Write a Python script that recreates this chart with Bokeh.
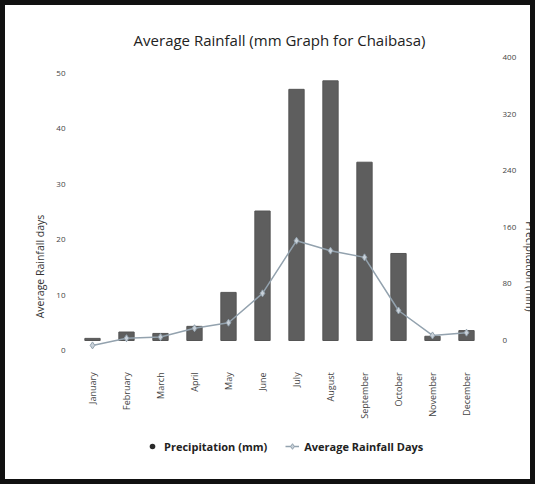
import math
from bokeh.plotting import figure
from bokeh.models import Range1d, LinearAxis, FixedTicker, Legend, LegendItem
from bokeh.core.properties import value
from bokeh.embed import file_html
from bokeh.resources import INLINE

months = ["January", "February", "March", "April", "May", "June", "July",
          "August", "September", "October", "November", "December"]
precip_mm = [3, 12, 10, 20, 68, 183, 355, 367, 252, 123, 6, 14]
rain_days = [0.9, 2.2, 2.4, 4.0, 5.0, 10.3, 19.8, 18.0, 16.8, 7.2, 2.7, 3.2]
left_ticks = [0, 10, 20, 30, 40, 50]
right_ticks = [0, 80, 160, 240, 320, 400]

FONT = "Open Sans"

# frame extends below the bars to hold the rotated month labels and the legend
p = figure(width=535, height=484, x_range=months,
           y_range=Range1d(-22.6, 52.9), output_backend="svg", toolbar_location=None,
           title="Average Rainfall (mm Graph for Chaibasa)",
           min_border_left=70, min_border_right=52, min_border_top=52,
           min_border_bottom=14)
p.styles = {"border": "5px solid #111111"}
p.x_range.range_padding = 0
p.extra_y_ranges = {"mm": Range1d(-190.8, 400)}

p.title.align = "center"
p.title.text_font = FONT
p.title.text_font_size = "15px"
p.title.text_font_style = "normal"
p.title.text_color = "#222222"
p.title.standoff = 15

p.xgrid.visible = False
p.ygrid.visible = False
p.xaxis.visible = False
p.outline_line_color = None
p.background_fill_color = "white"
p.border_fill_color = "white"

bars = p.vbar(x=months, top=precip_mm, width=0.45, y_range_name="mm",
              fill_color="#5e5e5e", line_color="#555555")
line = p.line(months, rain_days, line_color="#93a2ae", line_width=1.5)
pts = p.scatter(months, rain_days, marker="diamond", size=7,
                fill_color="#c9d1d9", line_color="#93a2ae")
# legend proxy for the precipitation series (zero-size markers, only the legend glyph shows)
dot = p.scatter(months, precip_mm, y_range_name="mm", marker="circle", size=0,
                fill_color="#2a2a2a", line_color=None)

# month (category) labels, rotated, below the bars
p.text(x=months, y=[-45] * len(months), text=months, y_range_name="mm",
       angle=math.pi / 2, text_align="right", text_baseline="middle",
       text_font=value(FONT), text_font_size="9px", text_color="#444444")

# axes
ax = p.yaxis[0]
ax.ticker = FixedTicker(ticks=left_ticks)
ax.axis_label = "Average Rainfall days"
right = LinearAxis(y_range_name="mm", ticker=FixedTicker(ticks=right_ticks),
                   axis_label="Precipitation (mm)")
p.add_layout(right, "right")

for a in [ax, right]:
    a.axis_line_color = None
    a.major_tick_line_color = None
    a.minor_tick_line_color = None
    a.major_label_text_font = FONT
    a.major_label_text_font_size = "8px"
    a.major_label_text_color = "#444444"
    a.axis_label_text_font = FONT
    a.axis_label_text_font_size = "10.5px"
    a.axis_label_text_font_style = "normal"
    a.axis_label_text_color = "#333333"
ax.major_label_standoff = 4
right.major_label_standoff = 13
ax.axis_label_standoff = 6
right.axis_label_standoff = 4

legend = Legend(items=[LegendItem(label="Precipitation (mm)", renderers=[dot]),
                       LegendItem(label="Average Rainfall Days", renderers=[line, pts])],
                orientation="horizontal", location=(70, 19))
legend.label_text_font = FONT
legend.label_text_font_size = "11px"
legend.label_text_font_style = "bold"
legend.label_text_color = "#222222"
legend.border_line_color = None
legend.background_fill_alpha = 0
legend.glyph_width = 14
legend.spacing = 18
legend.margin = 4
p.add_layout(legend, "center")

open("out.html", "w").write(file_html(p, INLINE))
